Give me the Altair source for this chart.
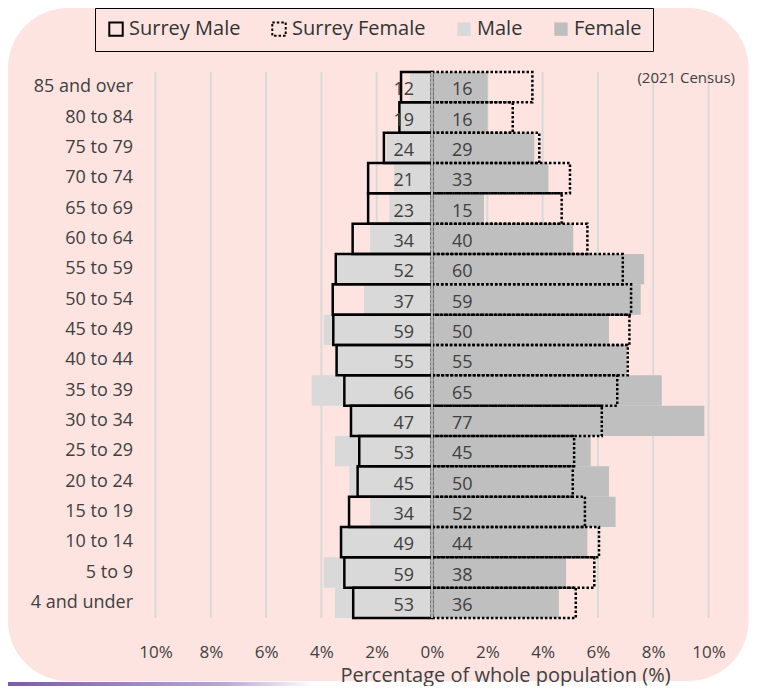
import altair as alt
import pandas as pd

ages = ["85 and over", "80 to 84", "75 to 79", "70 to 74", "65 to 69", "60 to 64",
        "55 to 59", "50 to 54", "45 to 49", "40 to 44", "35 to 39", "30 to 34",
        "25 to 29", "20 to 24", "15 to 19", "10 to 14", "5 to 9", "4 and under"]
male = [0.80, 1.15, 1.64, 1.37, 1.54, 2.24, 3.45, 2.46, 3.91, 3.50, 4.35, 2.90,
        3.51, 2.99, 2.24, 3.27, 3.91, 3.51]
female = [2.01, 2.01, 3.70, 4.21, 1.88, 5.11, 7.67, 7.55, 6.40, 7.04, 8.31, 9.85,
          5.74, 6.40, 6.64, 5.62, 4.85, 4.59]
surrey_male = [1.12, 1.18, 1.74, 2.31, 2.31, 2.87, 3.48, 3.59, 3.57, 3.45, 3.17, 2.93,
               2.63, 2.69, 3.00, 3.29, 3.17, 2.85]
surrey_female = [3.63, 2.92, 3.88, 4.99, 4.69, 5.62, 6.90, 7.20, 7.14, 7.08, 6.70, 6.14,
                 5.14, 5.09, 5.53, 6.04, 5.87, 5.20]
male_counts = [12, 19, 24, 21, 23, 34, 52, 37, 59, 55, 66, 47, 53, 45, 34, 49, 59, 53]
female_counts = [16, 16, 29, 33, 15, 40, 60, 59, 50, 55, 65, 77, 45, 50, 52, 44, 38, 36]
series = ["Surrey Male", "Surrey Female", "Male", "Female"]
ticks = [-10, -8, -6, -4, -2, 0, 2, 4, 6, 8, 10]

rows = []
for name, vals, sign in [("Male", male, -1), ("Female", female, 1),
                         ("Surrey Male", surrey_male, -1), ("Surrey Female", surrey_female, 1)]:
    for a, v in zip(ages, vals):
        rows.append({"age": a, "series": name, "pct": sign * v})
bars_df = pd.DataFrame(rows)
labels_df = pd.DataFrame({"age": ages, "m": male_counts, "f": female_counts})
grid_df = pd.DataFrame({"t": ticks})

W, H = 553, 546
PL, PT, PR, PB = 147.5, 64, 40, 68
PINK = "#fde4e1"
FONT = "Open Sans"
TXT = "#404040"
CLEAR = "rgba(0,0,0,0)"

y_enc = alt.Y("age:N", sort=ages,
              scale=alt.Scale(paddingInner=0, paddingOuter=0),
              axis=alt.Axis(title=None, ticks=False, domain=False, grid=False,
                            labelPadding=23, labelFontSize=18, labelColor=TXT,
                            labelFont=FONT, zindex=1))

x_scale = alt.Scale(domain=[-10, 10], nice=False)

bg = alt.Chart(alt.Data(values=[{}])).mark_rect(fill=PINK, cornerRadius=60).encode(
    x=alt.value(-PL), x2=alt.value(W + PR), y=alt.value(-PT), y2=alt.value(H + PB - 5))

swoosh = alt.Chart(alt.Data(values=[{}])).mark_rect(
    fill=alt.Gradient(gradient="linear",
                      stops=[alt.GradientStop(color="#7d5ba6", offset=0),
                             alt.GradientStop(color="#b9a6d3", offset=0.7),
                             alt.GradientStop(color="#ffffff", offset=1)],
                      x1=0, x2=1, y1=0, y2=0)).encode(
    x=alt.value(-PL), x2=alt.value(160), y=alt.value(H + PB - 4), y2=alt.value(H + PB))

grid = alt.Chart(grid_df).mark_rule(color="#d9d9d9", strokeWidth=2).encode(
    x=alt.X("t:Q", scale=x_scale),
    y=alt.value(0), y2=alt.value(H))

bars = alt.Chart(bars_df).mark_bar(strokeWidth=2.5).encode(
    x=alt.X("pct:Q", scale=x_scale, stack=None,
            axis=alt.Axis(values=ticks, labelExpr="abs(datum.value) + '%'",
                          title="Percentage of whole population (%)",
                          ticks=False, domain=False, grid=False, labelFlush=False,
                          labelFontSize=17, labelColor=TXT, labelFont=FONT,
                          labelPadding=26, titleFontSize=20, titleFontWeight="normal",
                          titleColor=TXT, titleFont=FONT, titleX=349.5, titleY=57,
                          titleBaseline="middle", titleAlign="center", zindex=1)),
    y=y_enc,
    fill=alt.Fill("series:N", scale=alt.Scale(domain=series,
                  range=[CLEAR, CLEAR, "#d9d9d9", "#bfbfbf"]),
                  legend=alt.Legend(title=None, orient="none", direction="horizontal",
                                    columns=4, legendX=-60.5, legendY=-PT,
                                    strokeColor="black", fillColor=PINK, padding=11,
                                    labelFontSize=20, labelColor="#333333", labelFont=FONT,
                                    symbolType="square", symbolSize=180,
                                    symbolStrokeWidth=2, labelOffset=3,
                                    columnPadding=27, zindex=1)),
    stroke=alt.Stroke("series:N", scale=alt.Scale(domain=series,
                      range=["#000000", "#000000", CLEAR, CLEAR]), legend=None),
    strokeDash=alt.StrokeDash("series:N", scale=alt.Scale(domain=series,
                              range=[[1, 0], [2.5, 2], [1, 0], [1, 0]]), legend=None),
)

center = alt.Chart(alt.Data(values=[{}])).mark_rule(color="#b4b4b4", strokeWidth=2).encode(
    x=alt.datum(0), y=alt.value(0), y2=alt.value(H))

left_txt = alt.Chart(labels_df).mark_text(align="right", baseline="middle", dx=-18, dy=3,
                                          fontSize=18, color=TXT, font=FONT).encode(
    x=alt.datum(0), y=y_enc, text="m:Q")
right_txt = alt.Chart(labels_df).mark_text(align="left", baseline="middle", dx=20, dy=3,
                                           fontSize=18, color=TXT, font=FONT).encode(
    x=alt.datum(0), y=y_enc, text="f:Q")

census = alt.Chart(alt.Data(values=[{"t": "(2021 Census)"}])).mark_text(
    align="right", baseline="middle", fontSize=15, color=TXT, font=FONT).encode(
    x=alt.value(579.5), y=alt.value(6), text="t:N")

chart = alt.layer(bg, swoosh, grid, bars, center, left_txt, right_txt, census).properties(
    width=W, height=H,
    autosize=alt.AutoSizeParams(type="none"),
    padding={"left": PL, "top": PT, "right": PR, "bottom": PB},
).configure_view(stroke=None).configure(background="white")

chart.save("out.html", embed_options={"renderer": "svg", "actions": False})
